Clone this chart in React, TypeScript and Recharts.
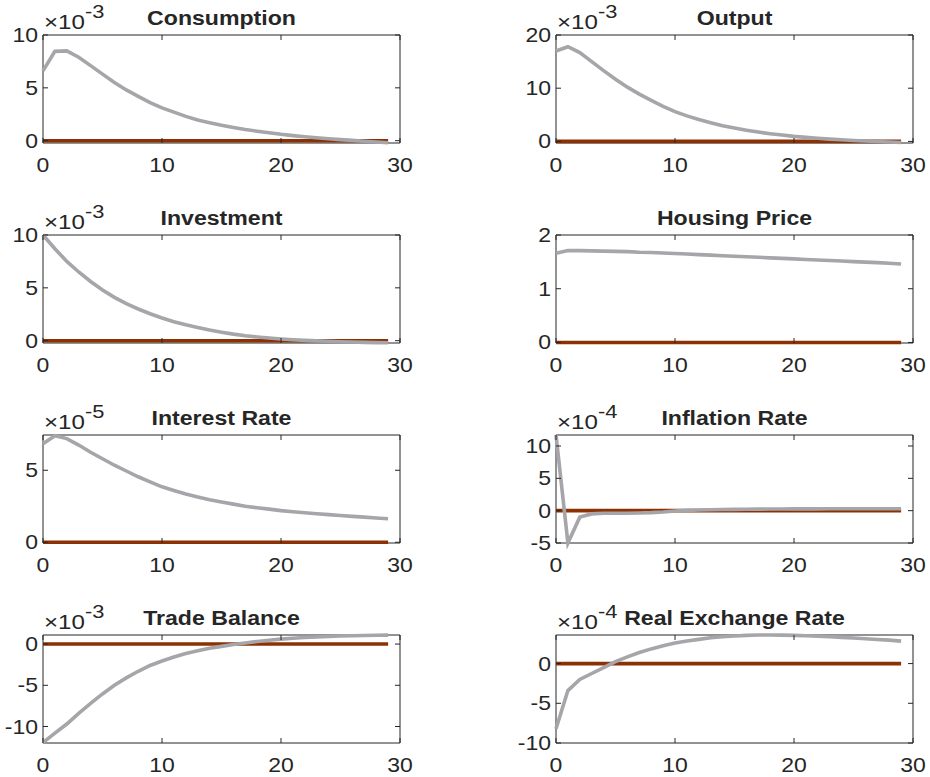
import React from "react";
import { LineChart, Line, XAxis, YAxis, ReferenceArea } from "recharts";

// impulse responses, 30 periods; values are in units of 10^exponent
const periods = [0, 1, 2, 3, 4, 5, 6, 7, 8, 9, 10, 11, 12, 13, 14, 15, 16, 17, 18, 19, 20, 21, 22, 23, 24, 25, 26, 27, 28, 29];
const baseline = [0, 0, 0, 0, 0, 0, 0, 0, 0, 0, 0, 0, 0, 0, 0, 0, 0, 0, 0, 0, 0, 0, 0, 0, 0, 0, 0, 0, 0, 0];

const consumption = [6.6, 8.45, 8.5, 7.9, 7.1, 6.3, 5.5, 4.8, 4.2, 3.6, 3.1, 2.7, 2.3, 1.95, 1.7, 1.45, 1.25, 1.05, 0.9, 0.75, 0.6, 0.48, 0.37, 0.27, 0.18, 0.1, 0.03, -0.05, -0.12, -0.2];
const output = [17.0, 17.8, 16.7, 15.0, 13.3, 11.7, 10.2, 8.9, 7.7, 6.6, 5.6, 4.8, 4.1, 3.5, 2.95, 2.5, 2.1, 1.75, 1.45, 1.2, 0.95, 0.75, 0.58, 0.43, 0.3, 0.18, 0.08, -0.02, -0.12, -0.22];
const investment = [10.0, 8.7, 7.5, 6.5, 5.6, 4.8, 4.1, 3.5, 3.0, 2.55, 2.15, 1.8, 1.5, 1.25, 1.0, 0.8, 0.62, 0.47, 0.35, 0.25, 0.16, 0.09, 0.03, -0.02, -0.06, -0.1, -0.13, -0.16, -0.18, -0.2];
const housingPrice = [1.66, 1.71, 1.71, 1.705, 1.7, 1.695, 1.69, 1.68, 1.675, 1.665, 1.655, 1.645, 1.635, 1.625, 1.615, 1.605, 1.595, 1.585, 1.575, 1.565, 1.555, 1.545, 1.535, 1.525, 1.515, 1.505, 1.495, 1.485, 1.475, 1.46];
const interestRate = [6.85, 7.4, 7.2, 6.75, 6.25, 5.8, 5.35, 4.95, 4.55, 4.2, 3.85, 3.6, 3.35, 3.15, 2.95, 2.8, 2.65, 2.5, 2.4, 2.3, 2.2, 2.12, 2.05, 1.98, 1.92, 1.86, 1.8, 1.75, 1.69, 1.63];
const inflationRate = [11.7, -5.0, -1.0, -0.5, -0.4, -0.4, -0.4, -0.35, -0.3, -0.2, -0.05, 0.05, 0.1, 0.15, 0.18, 0.2, 0.22, 0.24, 0.25, 0.26, 0.27, 0.28, 0.28, 0.29, 0.29, 0.3, 0.3, 0.3, 0.3, 0.3];
const tradeBalance = [-11.95, -10.8, -9.7, -8.4, -7.2, -6.05, -5.0, -4.1, -3.3, -2.6, -2.05, -1.56, -1.15, -0.8, -0.5, -0.28, -0.06, 0.14, 0.32, 0.47, 0.6, 0.7, 0.79, 0.86, 0.92, 0.97, 1.01, 1.04, 1.07, 1.09];
const realExchangeRate = [-8.2, -3.4, -2.0, -1.25, -0.5, 0.25, 0.85, 1.4, 1.85, 2.25, 2.6, 2.85, 3.05, 3.25, 3.38, 3.48, 3.55, 3.6, 3.6, 3.58, 3.55, 3.5, 3.45, 3.38, 3.3, 3.22, 3.13, 3.04, 2.95, 2.83];

const xTicks = [0, 10, 20, 30];

const GRAY = "#a6a6aa";
const BROWN = "#8c3103";
const INK = "#262626";
const FONT = "'Liberation Sans', Arial, Helvetica, sans-serif";
const STRETCH = 1.15;

const PANEL_W = 465;
const PANEL_H = 200;
const PLOT_TOP = 35;
const PLOT_H = 108;
const PLOT_W = 357;
const TICK_LEN = 5;

const panels = [
  { title: "Consumption", values: consumption, domain: [-0.22, 10], ticks: [0, 5, 10], exp: "-3" },
  { title: "Output", values: output, domain: [-0.3, 20], ticks: [0, 10, 20], exp: "-3" },
  { title: "Investment", values: investment, domain: [-0.22, 10], ticks: [0, 5, 10], exp: "-3" },
  { title: "Housing Price", values: housingPrice, domain: [-0.01, 2], ticks: [0, 1, 2], exp: null },
  { title: "Interest Rate", values: interestRate, domain: [-0.05, 7.45], ticks: [0, 5], exp: "-5" },
  { title: "Inflation Rate", values: inflationRate, domain: [-5, 11.7], ticks: [-5, 0, 5, 10], exp: "-4" },
  { title: "Trade Balance", values: tradeBalance, domain: [-12, 1.1], ticks: [-10, -5, 0], exp: "-3" },
  { title: "Real Exchange Rate", values: realExchangeRate, domain: [-10, 3.6], ticks: [-10, -5, 0], exp: "-4" },
];

const YTick = (props: any) => {
  const { x, y, payload } = props;
  return (
    <g>
      <line x1={x} x2={x + TICK_LEN} y1={y} y2={y} stroke={INK} />
      <line x1={x + PLOT_W - TICK_LEN} x2={x + PLOT_W} y1={y} y2={y} stroke={INK} />
      <text
        transform={`translate(${x - 5},${y + 7}) scale(${STRETCH},1)`}
        textAnchor="end"
        fontSize={20}
        fill={INK}
        fontFamily={FONT}
      >
        {payload.value}
      </text>
    </g>
  );
};

const XTick = (props: any) => {
  const { x, y, payload } = props;
  return (
    <g>
      <line x1={x} x2={x} y1={y} y2={y - TICK_LEN} stroke={INK} />
      <line x1={x} x2={x} y1={y - PLOT_H} y2={y - PLOT_H + TICK_LEN} stroke={INK} />
      <text
        transform={`translate(${x},${y + 29}) scale(${STRETCH},1)`}
        textAnchor="middle"
        fontSize={20}
        fill={INK}
        fontFamily={FONT}
      >
        {payload.value}
      </text>
    </g>
  );
};

function Panel({ p, index }: { p: any; index: number }) {
  const col = index % 2;
  const row = Math.floor(index / 2);
  const plotLeft = col === 0 ? 43 : 91;
  const data = periods.map((t, i) => ({ t, base: baseline[i], irf: p.values[i] }));

  return (
    <div style={{ position: "absolute", left: col * PANEL_W, top: row * PANEL_H, width: PANEL_W, height: PANEL_H }}>
      <LineChart
        width={PANEL_W}
        height={PANEL_H}
        data={data}
        margin={{ top: PLOT_TOP, right: PANEL_W - plotLeft - PLOT_W, bottom: PANEL_H - PLOT_TOP - PLOT_H - 30, left: plotLeft - 43 }}
      >
        <XAxis
          dataKey="t"
          type="number"
          domain={[0, 30]}
          ticks={xTicks}
          interval={0}
          height={30}
          axisLine={false}
          tickLine={false}
          tickSize={0}
          tickMargin={0}
          tick={<XTick />}
        />
        <YAxis
          type="number"
          domain={p.domain}
          ticks={p.ticks}
          interval={0}
          width={43}
          axisLine={false}
          tickLine={false}
          tickSize={0}
          tickMargin={0}
          tick={<YTick />}
        />
        <ReferenceArea
          x1={0}
          x2={30}
          y1={p.domain[0]}
          y2={p.domain[1]}
          fill="none"
          stroke={INK}
          strokeWidth={1}
          ifOverflow="visible"
        />
        <Line dataKey="base" type="linear" stroke={BROWN} strokeWidth={3.6} dot={false} activeDot={false} isAnimationActive={false} />
        <Line dataKey="irf" type="linear" stroke={GRAY} strokeWidth={3.6} dot={false} activeDot={false} isAnimationActive={false} />
      </LineChart>
      <svg
        width={PANEL_W}
        height={PANEL_H}
        style={{ position: "absolute", left: 0, top: 0, pointerEvents: "none" }}
      >
        <text
          transform={`translate(${plotLeft + PLOT_W / 2},${PLOT_TOP - 10}) scale(1.1,1)`}
          textAnchor="middle"
          fontSize={21}
          fontWeight="bold"
          fill={INK}
          fontFamily={FONT}
        >
          {p.title}
        </text>
        {p.exp && (
          <text
            transform={`translate(${plotLeft + 1},${PLOT_TOP - 6}) scale(${STRETCH},1)`}
            fontSize={21}
            fill={INK}
            fontFamily={FONT}
          >
            ×10
            <tspan dy={-11} fontSize={19}>{p.exp}</tspan>
          </text>
        )}
      </svg>
    </div>
  );
}

export default function App() {
  return (
    <div style={{ position: "absolute", left: 0, top: 0, width: 930, height: 777, background: "#fff" }}>
      {panels.map((p, i) => (
        <Panel key={p.title} p={p} index={i} />
      ))}
    </div>
  );
}
